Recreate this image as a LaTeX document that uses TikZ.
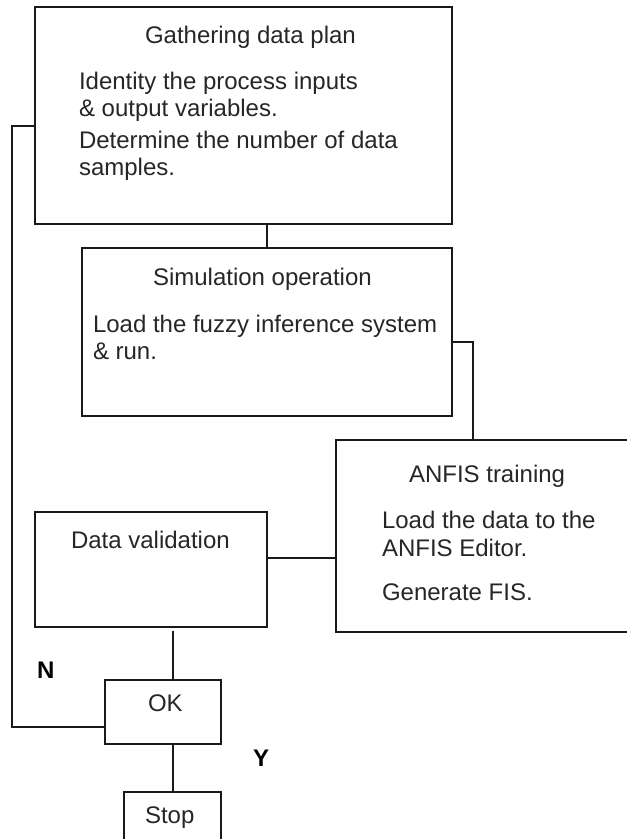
\documentclass[tikz,border=0pt]{standalone}
\usepackage{fontspec}
\setmainfont{Liberation Sans}
\begin{document}
\begin{tikzpicture}[x=1pt,y=-1pt,
  line width=2pt,
  box/.style={draw=black!90, line width=2pt, inner sep=0pt, anchor=north west},
  txt/.style={anchor=base west, inner sep=0pt, text=black!85,
    font=\fontsize{24}{28}\selectfont},
  lbl/.style={anchor=base west, inner sep=0pt, text=black,
    font=\fontsize{24}{28}\selectfont\bfseries},
  link/.style={draw=black!90, line width=2pt}]
\useasboundingbox (0,0) rectangle (627,839);
\clip (0,0) rectangle (627,839);

% process boxes
\node[box, minimum width=417pt, minimum height=217pt] (plan) at (34,6) {};
\node[box, minimum width=370pt, minimum height=168pt] (sim) at (81,247) {};
\node[box, minimum width=305pt, minimum height=192pt] (anfis) at (335,439) {};
\node[box, minimum width=232pt, minimum height=115pt] (valid) at (34,511) {};
\node[box, minimum width=116pt, minimum height=64pt] (ok) at (104,679) {};
\node[box, minimum width=97pt, minimum height=59pt] (stop) at (123,791) {};

% box texts
\node[txt] (t1) at (144,43) {Gathering data plan};
\node[txt] (t2) at (78,89) {Identity the process inputs};
\node[txt] (t3) at (78,116) {\& output variables.};
\node[txt] (t4) at (78,148) {Determine the number of data};
\node[txt] (t5) at (78,175) {samples.};

\node[txt] (s1) at (152,285) {Simulation operation};
\node[txt] (s2) at (92,332) {Load the fuzzy inference system};
\node[txt] (s3) at (92,359) {\& run.};

\node[txt] (a1) at (408,482) {ANFIS training};
\node[txt] (a2) at (381,528) {Load the data to the};
\node[txt] (a3) at (381,556) {ANFIS Editor.};
\node[txt] (a4) at (381,600) {Generate FIS.};

\node[txt] (v1) at (70,548) {Data validation};
\node[txt] (o1) at (147,711) {OK};
\node[txt] (p1) at (144,823) {Stop};

% branch labels
\node[lbl] (no) at (36,678) {N};
\node[lbl] (yes) at (252,766) {Y};

% junction points of the connectors
\coordinate (j1) at (473,342);
\coordinate (j2) at (300,558);
\coordinate (j3) at (173,631);
\coordinate (j4) at (12,727);
\coordinate (j5) at (12,126);

% connectors
\draw[link] (sim.north) -- (sim.north |- plan.south);
\draw[link] (sim.east |- j1) -| (anfis.north -| j1);
\draw[link] (valid.east |- j2) -- (anfis.west |- j2);
\draw[link] (j3) -- (ok.north -| j3);
\draw[link] (stop.north) -- (stop.north |- ok.south);
\draw[link] (ok.west |- j4) -- (j4) -- (j5) -- (plan.west |- j5);
\end{tikzpicture}
\end{document}
